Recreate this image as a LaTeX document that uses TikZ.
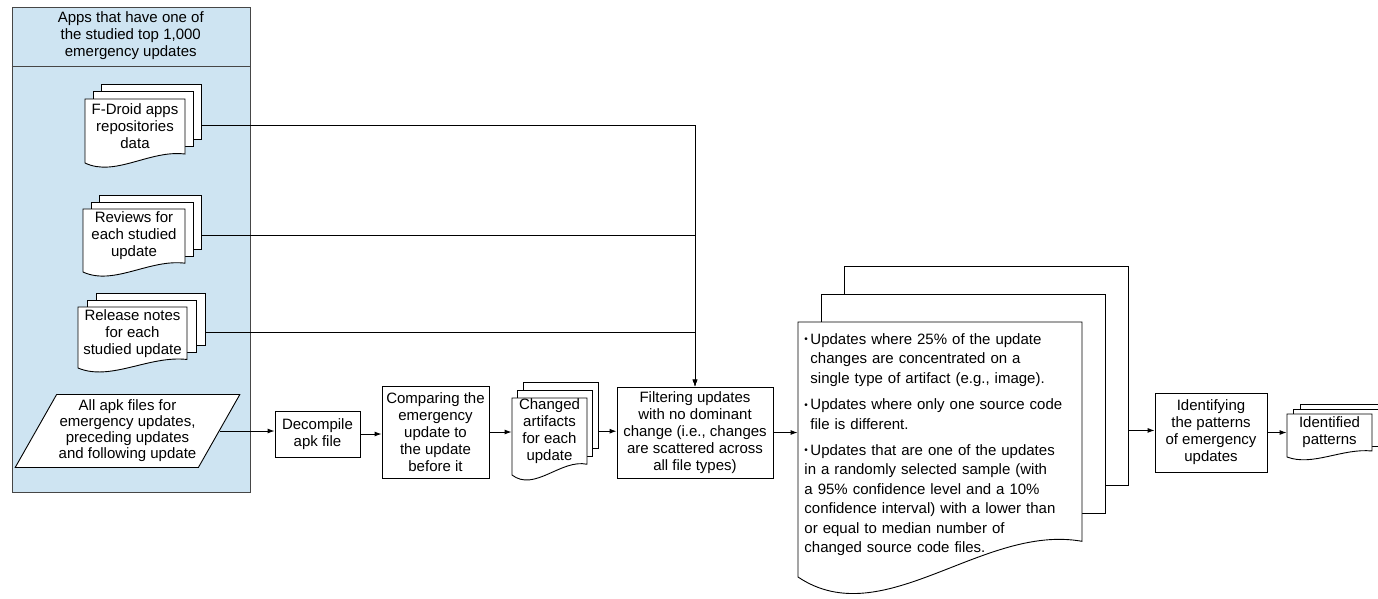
\documentclass[tikz,border=0pt]{standalone}
\usepackage{fontspec}
\setmainfont{Liberation Sans}
\usetikzlibrary{arrows.meta, shapes.geometric, fit}
\definecolor{appblue}{RGB}{206,228,242}
\definecolor{framegray}{RGB}{70,70,70}

% three stacked pages, the front one with a wavy bottom
% #1 name, #2 left, #3 top, #4 width, #5 height, #6 dx, #7 dy, #8 text
\newcommand{\docstack}[8]{%
  \pgfmathsetmacro{\wv}{0.14*#5}
  \pgfmathsetmacro{\yb}{#3+#5}
  \pgfmathsetmacro{\yr}{\yb-\wv}
  \foreach \k in {2,1}{
    \draw[fill=white] (#2+\k*#6,#3-\k*#7) rectangle (#2+#4+\k*#6,\yr-\k*#7);
  }
  \draw[fill=white] (#2,#3) -- (#2+#4,#3) -- (#2+#4,\yr)
    .. controls (#2+0.65*#4,\yb-1.5*\wv) and (#2+0.3*#4,\yb+1.6*\wv) .. (#2,\yb) -- cycle;
  \node[inner sep=0, fit={(#2,#3-2*#7) (#2+#4+2*#6,\yb+0.5*\wv)}] (#1) {};
  \node[align=center, inner sep=0] (#1-text) at (#2+0.5*#4,0.5*#3+0.5*\yr) {#8};
}
\newcommand{\itm}{\hangindent=6pt\hangafter=1\noindent\makebox[6pt][l]{\fontsize{10}{10}\selectfont\raisebox{1.5pt}{\textbullet}}}

\begin{document}
\begin{tikzpicture}[x=1pt, y=-1pt, line width=0.9pt, >={Latex[length=7pt,width=5pt]},
  every node/.style={font=\fontsize{15}{17}\selectfont},
  procbox/.style={draw, fill=white, align=center, inner sep=0}]
\useasboundingbox (0,0) rectangle (1378,598);

% input data of the studied apps
\node[draw=framegray, fill=appblue, anchor=north west, minimum width=238.5pt, minimum height=485.5pt, inner sep=0] (apps) at (11.5,6.5) {};
\draw[framegray] ([yshift=-59.5pt]apps.north west) -- ([yshift=-59.5pt]apps.north east);
\node[align=center] (apps-title) at (130.75,36) {Apps that have one of\\the studied top 1,000\\emergency updates};

\docstack{fdroid}{85}{99}{100}{64}{8}{7.5}{F-Droid apps\\repositories\\data}
\docstack{reviews}{83}{209}{102}{63}{8}{7}{Reviews for\\each studied\\update}
\docstack{notes}{78}{307}{109}{61}{9}{7}{Release notes\\for each\\studied update}
\node[trapezium, trapezium left angle=57, trapezium right angle=123, trapezium stretches=true, draw, fill=white,
  minimum width=225pt, minimum height=73pt, inner sep=0, align=center, font=\fontsize{15}{16}\selectfont] (apk) at (127.5,431)
  {All apk files for\\emergency updates,\\preceding updates\\and following update};

% processing steps
\node[procbox, minimum width=85pt, minimum height=46pt] (decomp) at (317.5,434) {Decompile\\apk file};
\node[procbox, minimum width=107pt, minimum height=92pt] (compare) at (435.5,432) {Comparing the\\emergency\\update to\\the update\\before it};
\docstack{changed}{512}{398}{75}{77}{5.5}{8}{Changed\\artifacts\\for each\\update}
\node[procbox, minimum width=156pt, minimum height=91pt] (filter) at (695,432.5) {Filtering updates\\with no dominant\\change (i.e., changes\\are scattered across\\all file types)};
\docstack{rules}{798}{322}{284}{255}{23}{28}{}
\node[anchor=north west, inner sep=0, text width=275pt, align=left, font=\fontsize{15}{19.5}\selectfont] (rules-list) at (804,333)
  {\itm Updates where 25\% of the update\newline changes are concentrated on a\newline single type of artifact (e.g., image).\par\vspace{6.7pt}
   \itm Updates where only one source code\newline file is different.\par\vspace{6.7pt}
   \itm Updates that are one of the updates\newline in a randomly selected sample (with\newline a 95\% confidence level and a 10\%\newline confidence interval) with a lower than\newline or equal to median number of\newline changed source code files.};
\node[procbox, minimum width=112pt, minimum height=79pt] (identify) at (1211,432.5) {Identifying\\the patterns\\of emergency\\updates};
\docstack{patterns}{1287}{414}{85}{43}{6.5}{5}{Identified\\patterns}

% connectors
\draw[->] (fdroid.east) -| (filter.north);
\draw[->] (reviews.east) -| (filter.north);
\draw[->] (notes.east) -| (filter.north);
\draw[->] (apk.east) -- (apk.east -| decomp.west);
\draw[->] (decomp.east) -- (decomp.east -| compare.west);
\draw[->] (compare.east) -- (compare.east -| changed.west);
\draw[->] (changed.east) -- (changed.east -| filter.west);
\draw[->] (filter.east) -- (filter.east -| rules.west);
\draw[->] (rules.east) -- (rules.east -| identify.west);
\draw[->] (identify.east) -- (identify.east -| patterns.west);
\end{tikzpicture}
\end{document}
